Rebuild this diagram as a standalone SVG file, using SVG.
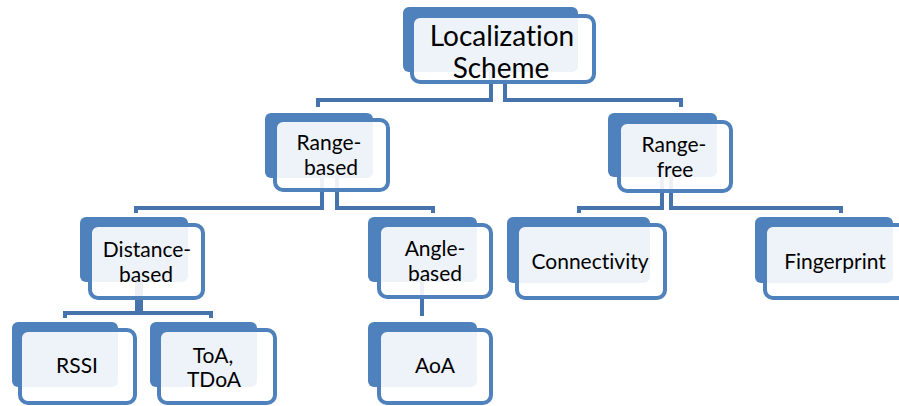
<svg xmlns="http://www.w3.org/2000/svg" width="899" height="406" viewBox="0 0 899 406">
  <style>
    .back { fill: #4f81bd; }
    .front { fill: #ffffff; fill-opacity: 0.9; stroke: #4f81bd; stroke-width: 4; }
    .link { fill: none; stroke: #4673ab; stroke-width: 4; }
    text { font-family: Lato, "Liberation Sans", sans-serif; fill: #000; text-anchor: middle; font-variant-ligatures: none; }
    .t1 { font-size: 28px; }
    .t2 { font-size: 21px; }
  </style>
  <rect width="899" height="406" fill="#ffffff"/>

  <!-- connectors sit behind the boxes -->
  <g id="connectors">
    <path class="link" d="M491,60 V100 H318 V107"/>
    <path class="link" d="M505,60 V100 H681 V107"/>
    <path class="link" d="M322,165 V208 H136 V213"/>
    <path class="link" d="M337,165 V208 H433 V213"/>
    <path class="link" d="M662,165 V208 H579 V213"/>
    <path class="link" d="M671,165 V208 H841 V213"/>
    <path class="link" d="M137,270 V313 H65 V318"/>
    <path class="link" d="M141,270 V313 H211 V318"/>
    <path class="link" d="M422,270 V316"/>
  </g>

  <g id="node-localization-scheme">
    <rect class="back" x="403" y="7" width="175" height="65" rx="6"/>
    <rect class="front" x="412" y="16" width="182" height="66" rx="8"/>
    <text class="t1" x="502" y="46">Localization</text>
    <text class="t1" x="501" y="78">Scheme</text>
  </g>

  <g id="node-range-based">
    <rect class="back" x="265" y="113" width="108" height="65" rx="6"/>
    <rect class="front" x="275" y="120" width="113" height="70" rx="8"/>
    <text class="t2" x="329" y="150">Range-</text>
    <text class="t2" x="331" y="175">based</text>
  </g>

  <g id="node-range-free">
    <rect class="back" x="608" y="113" width="109" height="64" rx="6"/>
    <rect class="front" x="619" y="122" width="112" height="69" rx="8"/>
    <text class="t2" x="674" y="152">Range-</text>
    <text class="t2" x="675" y="177">free</text>
  </g>

  <g id="node-distance-based">
    <rect class="back" x="80" y="217" width="108" height="65" rx="6"/>
    <rect class="front" x="90" y="225" width="113" height="73" rx="8"/>
    <text class="t2" x="147" y="257">Distance-</text>
    <text class="t2" x="146" y="282">based</text>
  </g>

  <g id="node-angle-based">
    <rect class="back" x="368" y="217" width="109" height="65" rx="6"/>
    <rect class="front" x="379" y="225" width="112" height="72" rx="8"/>
    <text class="t2" x="435" y="256">Angle-</text>
    <text class="t2" x="435" y="281">based</text>
  </g>

  <g id="node-connectivity">
    <rect class="back" x="507" y="217" width="143" height="66" rx="6"/>
    <rect class="front" x="517" y="225" width="148" height="73" rx="8"/>
    <text class="t2" x="590" y="269">Connectivity</text>
  </g>

  <g id="node-fingerprint">
    <rect class="back" x="755" y="217" width="138" height="66" rx="6"/>
    <rect class="front" x="765" y="225" width="148" height="73" rx="8"/>
    <text class="t2" x="835" y="269">Fingerprint</text>
  </g>

  <g id="node-rssi">
    <rect class="back" x="12" y="322" width="106" height="65" rx="6"/>
    <rect class="front" x="20" y="330" width="115" height="73" rx="8"/>
    <text class="t2" x="77" y="373">RSSI</text>
  </g>

  <g id="node-toa-tdoa">
    <rect class="back" x="150" y="322" width="107" height="65" rx="6"/>
    <rect class="front" x="159" y="330" width="116" height="73" rx="8"/>
    <text class="t2" x="213" y="363">ToA,</text>
    <text class="t2" x="214" y="387">TDoA</text>
  </g>

  <g id="node-aoa">
    <rect class="back" x="368" y="322" width="109" height="65" rx="6"/>
    <rect class="front" x="379" y="330" width="112" height="73" rx="8"/>
    <text class="t2" x="435" y="373">AoA</text>
  </g>
</svg>
